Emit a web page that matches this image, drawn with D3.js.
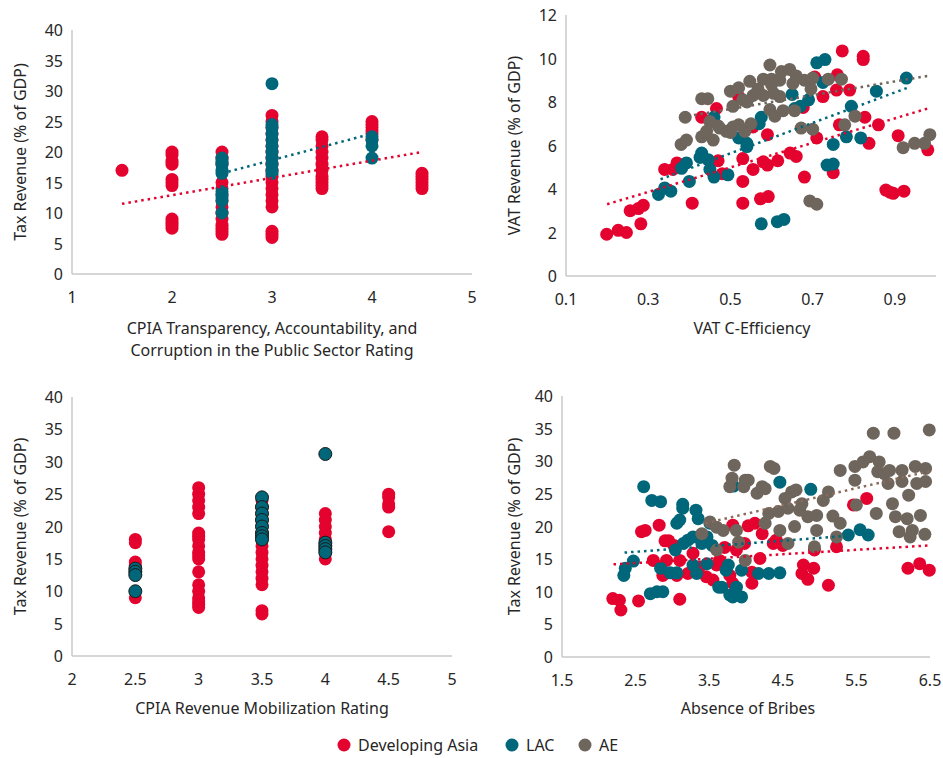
<!DOCTYPE html>
<html>
<head>
<meta charset="utf-8">
<script src="https://cdn.jsdelivr.net/npm/d3@7"></script>
<style>
  body { margin: 0; background: #fff; }
  text { font-family: "Noto Sans", "Open Sans", sans-serif; fill: #262626; }
</style>
</head>
<body>
<svg class="chart"></svg>
<script>
// ---- data ----
var seriesNames = ["Developing Asia", "LAC", "AE"];
var seriesColors = ["#e4032e", "#00667a", "#6e655c"];

// panel A: CPIA transparency vs tax revenue
var aAsia = [[1.5,17],
  [2,20],[2,19.5],[2,18.5],[2,18],[2,15.5],[2,15],[2,14.5],[2,9],[2,8.5],[2,8],[2,7.5],
  [2.5,20],[2.5,19],[2.5,18],[2.5,15],[2.5,14],[2.5,13],[2.5,12],[2.5,11],[2.5,10],[2.5,9],[2.5,8],[2.5,7.5],[2.5,7],[2.5,6.5],
  [3,26],[3,25],[3,24],[3,23],[3,22],[3,21],[3,20],[3,19],[3,18],[3,17],[3,16],[3,15],[3,14],[3,13],[3,12],[3,11],[3,7],[3,6.5],[3,6],
  [3.5,22.5],[3.5,22],[3.5,21],[3.5,20],[3.5,19],[3.5,18],[3.5,17],[3.5,16],[3.5,15.5],[3.5,15],[3.5,14.5],[3.5,14],
  [4,25],[4,24.5],[4,24],[4,23.5],[4,23],[4,22],
  [4.5,16.5],[4.5,16],[4.5,15.5],[4.5,15],[4.5,14.5],[4.5,14]];
var aLac = [[2.5,19],[2.5,18.5],[2.5,18],[2.5,17],[2.5,16.5],[2.5,13.5],[2.5,13],[2.5,12.5],[2.5,12],[2.5,10],
  [3,31.2],[3,24.5],[3,24],[3,23],[3,22],[3,21],[3,20],[3,19],[3,18],[3,17],[3,16.5],
  [4,22.5],[4,22],[4,21],[4,19]];
var aTrends = [[[1.5,11.5],[4.5,20]], [[2.5,16.5],[4,23]], null];

// panel B: VAT C-efficiency vs VAT revenue
var bAsia = [[0.199,1.92],[0.227,2.1],[0.247,2.0],[0.256,3.0],[0.282,2.4],[0.276,3.1],[0.288,3.25],[0.34,4.9],[0.37,5.2],[0.36,4.9],
  [0.407,3.35],[0.43,7.3],[0.466,7.7],[0.47,5.3],[0.48,4.7],[0.52,8.25],[0.53,5.4],[0.53,4.35],[0.53,3.35],[0.555,6.85],[0.555,4.9],
  [0.59,6.5],[0.58,5.25],[0.59,5.1],[0.573,3.55],[0.592,3.65],[0.615,5.3],[0.645,5.65],[0.66,5.5],[0.68,4.55],[0.677,7.75],[0.705,9.15],
  [0.71,6.35],[0.725,8.25],[0.75,4.75],[0.76,9.25],[0.758,8.55],[0.765,6.95],[0.772,10.35],[0.79,8.55],[0.823,10.1],[0.823,9.95],
  [0.827,7.3],[0.837,6.1],[0.86,6.95],[0.878,3.95],[0.888,3.85],[0.896,3.8],[0.922,3.9],[0.908,6.45],[0.98,5.8]];
var bLac = [[0.325,3.75],[0.34,4.05],[0.355,3.9],[0.381,4.95],[0.393,5.2],[0.4,4.35],[0.426,5.45],[0.43,5.65],[0.446,5.35],[0.45,4.9],
  [0.46,4.55],[0.46,7.3],[0.494,4.65],[0.52,6.35],[0.54,6.1],[0.54,5.95],[0.57,7.0],[0.575,7.3],[0.575,2.4],[0.614,2.5],[0.63,2.6],
  [0.65,8.35],[0.656,7.7],[0.67,7.8],[0.69,8.1],[0.71,9.8],[0.73,9.95],[0.725,8.9],[0.735,5.1],[0.75,5.15],[0.75,6.05],[0.782,6.4],
  [0.794,7.8],[0.817,6.35],[0.855,8.5],[0.928,9.1]];
var bAe = [[0.39,7.3],[0.38,6.05],[0.393,6.25],[0.43,8.15],[0.445,8.15],[0.43,6.4],[0.45,7.1],[0.442,6.65],[0.458,6.25],[0.474,6.8],
  [0.49,6.65],[0.506,6.85],[0.5,8.5],[0.506,7.8],[0.52,8.65],[0.53,8.1],[0.52,6.95],[0.535,6.65],[0.547,8.95],[0.555,8.3],[0.567,8.6],
  [0.58,9.05],[0.596,9.7],[0.6,9.05],[0.605,8.4],[0.596,7.65],[0.608,7.35],[0.62,8.25],[0.624,9.4],[0.644,9.5],[0.628,7.6],[0.652,8.85],
  [0.656,7.6],[0.672,6.8],[0.68,9.0],[0.696,8.6],[0.7,6.75],[0.693,3.45],[0.71,3.3],[0.738,9.05],[0.77,9.05],[0.778,6.95],[0.803,7.35],
  [0.92,5.9],[0.948,6.1],[0.972,6.1],[0.985,6.5],[0.47,6.9],[0.5,6.6],[0.55,7.0],[0.6,8.8],[0.58,8.3],[0.54,8.0],[0.62,9.0],[0.66,9.2],[0.7,9.1]];
var bTrends = [[[0.2,3.3],[0.98,7.7]], [[0.33,4.45],[0.93,8.65]], [[0.38,7.3],[0.98,9.2]]];

// panel C: CPIA revenue mobilization vs tax revenue
var cAsia = [[2.5,18],[2.5,17.5],[2.5,14.5],[2.5,14],[2.5,13],[2.5,9],
  [3,26],[3,25],[3,24],[3,23],[3,22],[3,19],[3,18.5],[3,18],[3,17],[3,16],[3,15.5],[3,15],[3,13],[3,11],[3,10],[3,9],[3,8.5],[3,8],[3,7.5],
  [3.5,24],[3.5,23],[3.5,22],[3.5,21],[3.5,20],[3.5,19],[3.5,18],[3.5,17],[3.5,16],[3.5,15],[3.5,14],[3.5,13],[3.5,12],[3.5,11],[3.5,7],[3.5,6.5],
  [4,22],[4,21],[4,20],[4,19],[4,18],[4,17],[4,16],[4,15],
  [4.5,25],[4.5,24.5],[4.5,23.5],[4.5,23],[4.5,19.2]];
var cLac = [[2.5,13.5],[2.5,13],[2.5,12.5],[2.5,10],
  [3.5,24.5],[3.5,23],[3.5,22],[3.5,21],[3.5,20],[3.5,19],[3.5,18.5],[3.5,18],
  [4,31.2],[4,17.5],[4,17],[4,16.5],[4,16]];

// panel D: absence of bribes vs tax revenue
var dAsia = [[2.19,8.95],[2.28,8.7],[2.3,7.2],[2.54,8.6],[2.58,19.2],[2.63,19.4],[2.74,14.8],[2.82,20.2],[2.87,12.5],[2.9,17.8],
  [2.95,17.8],[2.92,14.8],[3.02,17.1],[3.06,12.5],[3.1,8.85],[3.1,14.8],[3.21,12.8],[3.28,15.9],[3.37,13.8],[3.46,12.3],[3.55,11.8],
  [3.6,14.1],[3.64,14.8],[3.71,16.8],[3.78,12.5],[3.82,11.3],[3.82,20.2],[3.87,16.4],[3.98,17.4],[4.03,20.1],[4.12,20.5],[4.08,13.0],
  [4.08,11.3],[4.22,18.9],[4.19,15.1],[4.37,17.4],[4.41,17.9],[4.5,17.1],[4.78,14.1],[4.76,12.8],[4.84,11.9],[4.92,13.6],[4.93,16.4],
  [5.12,11.0],[5.23,16.9],[5.46,23.3],[5.64,24.3],[6.2,13.6],[6.36,14.3],[6.49,13.3]];
var dLac = [[2.34,12.5],[2.36,13.6],[2.47,14.7],[2.61,26.1],[2.7,9.7],[2.72,24.0],[2.79,10.0],[2.84,23.8],[2.87,10.0],[2.84,13.6],
  [2.97,12.9],[3.06,12.9],[3.04,16.4],[3.06,20.5],[3.1,21.0],[3.14,23.4],[3.14,22.8],[3.15,17.4],[3.21,17.9],[3.28,18.4],[3.28,14.1],
  [3.33,12.8],[3.32,22.5],[3.35,21.2],[3.4,17.4],[3.47,18.4],[3.47,14.3],[3.51,20.5],[3.54,17.1],[3.63,10.7],[3.67,10.7],[3.73,13.3],
  [3.76,14.1],[3.78,9.5],[3.82,9.2],[3.87,10.7],[3.94,9.2],[3.94,13.3],[3.83,26.2],[4.17,12.8],[4.31,12.8],[4.46,12.9],[4.46,26.8],
  [4.88,25.7],[5.39,18.7],[5.55,19.5],[5.66,18.7]];
var dAe = [[3.4,18.9],[3.51,20.7],[3.6,16.4],[3.6,19.9],[3.69,19.4],[3.78,26.1],[3.81,27.4],[3.84,29.4],[3.87,19.4],[3.9,17.6],
  [3.99,14.8],[3.97,26.1],[3.99,27.1],[4.03,27.1],[4.15,25.1],[4.22,26.1],[4.26,25.8],[4.26,20.5],[4.31,22.0],[4.33,29.2],[4.38,28.9],
  [4.44,22.3],[4.46,19.4],[4.53,24.3],[4.57,22.8],[4.57,17.4],[4.62,25.3],[4.68,25.6],[4.66,20.0],[4.73,22.5],[4.76,23.5],[4.84,21.5],
  [4.93,16.9],[4.96,21.7],[4.96,19.4],[5.05,24.0],[5.12,25.3],[5.18,21.6],[5.23,18.4],[5.28,20.5],[5.28,28.6],[5.48,29.2],[5.48,27.1],
  [5.5,23.3],[5.59,29.9],[5.68,30.7],[5.73,34.3],[5.77,22.0],[5.81,29.9],[5.79,28.4],[5.88,28.1],[5.95,28.6],[5.93,26.6],[5.99,23.5],
  [6.01,34.3],[6.03,21.5],[6.08,19.2],[6.12,26.9],[6.12,28.6],[6.19,21.2],[6.21,24.8],[6.23,18.4],[6.26,19.4],[6.3,29.2],[6.32,26.6],
  [6.37,21.7],[6.44,28.9],[6.44,26.9],[6.43,18.8],[6.49,34.8]];
var dTrends = [[[2.2,14.2],[6.5,17.1]], [[2.35,16.0],[5.3,18.5]], [[3.45,20.5],[6.5,28.5]]];

var aTicksX = [1,2,3,4,5], bTicksX = [0.1,0.3,0.5,0.7,0.9], cTicksX = [2,2.5,3,3.5,4,4.5,5], dTicksX = [1.5,2.5,3.5,4.5,5.5,6.5];
var taxTicks = [0,5,10,15,20,25,30,35,40], vatTicks = [0,2,4,6,8,10,12];

// ---- drawing ----
var chart = d3.select(".chart").attr("width", 943).attr("height", 758);

var panels = [
  { x0: 72, x1: 472, y0: 274, y1: 30, xd: [1,5], yd: [0,40], xt: aTicksX, yt: taxTicks,
    series: [aAsia, aLac, null], trends: aTrends, ytitleX: 20,
    xtitle: ["CPIA Transparency, Accountability, and", "Corruption in the Public Sector Rating"], xtitleX: 272, xtitleY: 334 },
  { x0: 566, x1: 936, y0: 276, y1: 15, xd: [0.1,1], yd: [0,12], xt: bTicksX, yt: vatTicks,
    series: [bAsia, bLac, bAe], trends: bTrends, ytitleX: 514, fmt: d3.format(".1f"),
    xtitle: ["VAT C-Efficiency"], xtitleX: 752, xtitleY: 334 },
  { x0: 72, x1: 452, y0: 656, y1: 397, xd: [2,5], yd: [0,40], xt: cTicksX, yt: taxTicks,
    series: [cAsia, cLac, null], trends: [null,null,null], ytitleX: 20, outline: true,
    xtitle: ["CPIA Revenue Mobilization Rating"], xtitleX: 262, xtitleY: 714 },
  { x0: 562, x1: 930, y0: 657, y1: 396, xd: [1.5,6.5], yd: [0,40], xt: dTicksX, yt: taxTicks,
    series: [dAsia, dLac, dAe], trends: dTrends, ytitleX: 514, trendColors: ["#e4032e","#00667a","#8a6a58"],
    xtitle: ["Absence of Bribes"], xtitleX: 748, xtitleY: 714 }
];

panels.forEach(function (p, i) {
  var x = d3.scaleLinear().domain(p.xd).range([p.x0, p.x1]);
  var y = d3.scaleLinear().domain(p.yd).range([p.y0, p.y1]);
  var g = chart.append("g");

  g.append("line").attr("x1", p.x0).attr("x2", p.x1).attr("y1", p.y0).attr("y2", p.y0)
    .attr("stroke", "#c8c8c8").attr("stroke-width", 1.5);
  g.append("line").attr("x1", p.x0).attr("x2", p.x0).attr("y1", p.y0).attr("y2", p.y1)
    .attr("stroke", "#c8c8c8").attr("stroke-width", 1.5);

  g.selectAll(".xt").data(p.xt).enter().append("text")
    .attr("x", d => x(d)).attr("y", p.y0 + 29).attr("text-anchor", "middle")
    .attr("font-size", 16).text(d => p.fmt ? p.fmt(d) : d);
  g.selectAll(".yt").data(p.yt).enter().append("text")
    .attr("x", p.x0 - 9).attr("y", d => y(d) + 6).attr("text-anchor", "end")
    .attr("font-size", 16).text(d => d);

  g.append("text").attr("transform", "translate(" + (p.ytitleX + 6) + "," + ((p.y0 + p.y1) / 2) + ") rotate(-90)")
    .attr("text-anchor", "middle").attr("font-size", 16)
    .text(i === 1 ? "VAT Revenue (% of GDP)" : "Tax Revenue (% of GDP)");
  p.xtitle.forEach(function (t, k) {
    g.append("text").attr("x", p.xtitleX).attr("y", p.xtitleY + k * 22)
      .attr("text-anchor", "middle").attr("font-size", 16).text(t);
  });

  [0, 1, 2].forEach(function (s) {
    var pts = p.series[s];
    if (!pts) return;
    g.selectAll(".s" + s).data(pts).enter().append("circle")
      .attr("cx", d => x(d[0])).attr("cy", d => y(d[1])).attr("r", 6.5)
      .attr("fill", seriesColors[s])
      .attr("stroke", p.outline && s === 1 ? "#1a1a1a" : "none").attr("stroke-width", 1);
  });

  p.trends.forEach(function (t, s) {
    if (!t) return;
    g.append("line").attr("x1", x(t[0][0])).attr("y1", y(t[0][1]))
      .attr("x2", x(t[1][0])).attr("y2", y(t[1][1]))
      .attr("stroke", (p.trendColors || seriesColors)[s]).attr("stroke-width", 2.5)
      .attr("stroke-dasharray", "2.5,4").attr("stroke-linecap", "butt");
  });
});

// legend
var legendX = [344, 512, 585];
var legend = chart.selectAll(".lg").data(seriesNames).enter().append("g")
  .attr("transform", (d, i) => "translate(" + legendX[i] + ",745)");
legend.append("circle").attr("r", 6.5).attr("fill", (d, i) => seriesColors[i]);
legend.append("text").attr("x", 14).attr("y", 6).attr("font-size", 16).text(d => d);
</script>
</body>
</html>
